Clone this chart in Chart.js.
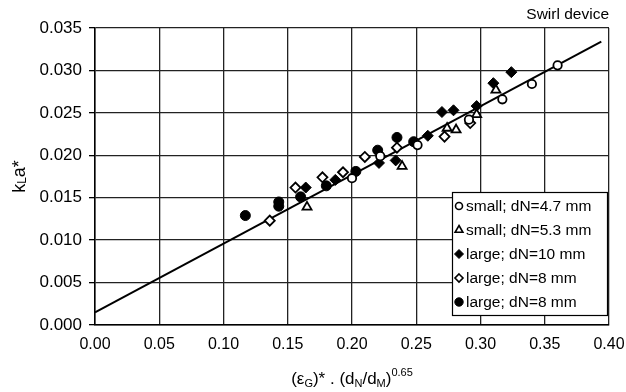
<!DOCTYPE html>
<html><head><meta charset="utf-8">
<script src="https://cdn.jsdelivr.net/npm/chart.js@4.4.0/dist/chart.umd.min.js"></script>
<style>html,body{margin:0;padding:0;background:#fff}#wrap{width:626px;height:392px}</style>
</head><body><div id="wrap"><canvas id="c" width="626" height="392"></canvas></div>
<script>
// ---- data ----
const xTicks = [0.00, 0.05, 0.10, 0.15, 0.20, 0.25, 0.30, 0.35, 0.40];
const yTicks = [0.000, 0.005, 0.010, 0.015, 0.020, 0.025, 0.030, 0.035];
const seriesNames = ["small; dN=4.7 mm", "small; dN=5.3 mm", "large; dN=10 mm", "large; dN=8 mm", "large; dN=8 mm"];

const small47X = [0.200, 0.222, 0.251, 0.291, 0.317, 0.340, 0.360];
const small47Y = [0.0173, 0.0199, 0.0212, 0.0242, 0.0266, 0.0284, 0.0306];

const small53X = [0.165, 0.239, 0.274, 0.281, 0.297, 0.312];
const small53Y = [0.0139, 0.0187, 0.0232, 0.0230, 0.0248, 0.0277];

const large10X = [0.164, 0.187, 0.221, 0.234, 0.259, 0.270, 0.279, 0.297, 0.310, 0.324];
const large10Y = [0.0162, 0.0171, 0.0191, 0.0194, 0.0223, 0.0251, 0.0253, 0.0258, 0.0285, 0.0298];

const large8oX = [0.136, 0.156, 0.177, 0.193, 0.210, 0.235, 0.272, 0.292];
const large8oY = [0.0123, 0.0162, 0.0174, 0.0180, 0.0198, 0.0209, 0.0222, 0.0238];

const large8fX = [0.117, 0.143, 0.143, 0.160, 0.180, 0.203, 0.220, 0.235, 0.248];
const large8fY = [0.0129, 0.0145, 0.0140, 0.0151, 0.0164, 0.0181, 0.0206, 0.0221, 0.0216];

const fitX = [0.000, 0.394];
const fitY = [0.0015, 0.0334];

const cornerNote = "Swirl device";

// ---- build ----
const pts = (xs, ys) => xs.map((x, i) => ({x: x, y: ys[i]}));
const FONT = '"Liberation Sans", Arial, Helvetica, sans-serif';

const styles = [
  {pointStyle: 'circle',   radius: 4.2, bg: '#fff', border: '#000', bw: 1.8},
  {pointStyle: 'triangle', radius: 5.2, bg: '#fff', border: '#000', bw: 1.8},
  {pointStyle: 'rectRot',  radius: 5.5, bg: '#000', border: '#000', bw: 1},
  {pointStyle: 'rectRot',  radius: 5,   bg: '#fff', border: '#000', bw: 1.8},
  {pointStyle: 'circle',   radius: 5,   bg: '#000', border: '#000', bw: 1}
];
const seriesData = [pts(small47X, small47Y), pts(small53X, small53Y), pts(large10X, large10Y), pts(large8oX, large8oY), pts(large8fX, large8fY)];

const datasets = seriesData.map((d, i) => ({
  type: 'scatter', label: seriesNames[i], data: d, order: i + 1,
  pointStyle: styles[i].pointStyle, pointRadius: styles[i].radius,
  pointBackgroundColor: styles[i].bg, pointBorderColor: styles[i].border,
  pointBorderWidth: styles[i].bw, showLine: false
}));
datasets.push({
  type: 'line', label: 'fit', data: pts(fitX, fitY), order: 20,
  borderColor: '#000', borderWidth: 2, pointRadius: 0, fill: false, tension: 0
});

function drawMarker(ctx, st, x, y, r) {
  ctx.save();
  ctx.fillStyle = st.bg; ctx.strokeStyle = st.border; ctx.lineWidth = st.bw;
  ctx.beginPath();
  if (st.pointStyle === 'circle') {
    ctx.arc(x, y, r, 0, Math.PI * 2);
  } else if (st.pointStyle === 'triangle') {
    const w = r * Math.sqrt(3);
    ctx.moveTo(x, y - r);
    ctx.lineTo(x + w / 2, y + r / 2);
    ctx.lineTo(x - w / 2, y + r / 2);
    ctx.closePath();
  } else {
    ctx.moveTo(x, y - r); ctx.lineTo(x + r, y); ctx.lineTo(x, y + r); ctx.lineTo(x - r, y); ctx.closePath();
  }
  ctx.fill(); ctx.stroke();
  ctx.restore();
}

function drawRich(ctx, parts, cx, baseY, align) {
  let total = 0;
  parts.forEach(p => { ctx.font = p.size + 'px ' + FONT; p.w = ctx.measureText(p.t).width; total += p.w; });
  let x = align === 'center' ? cx - total / 2 : cx;
  parts.forEach(p => {
    ctx.font = p.size + 'px ' + FONT;
    ctx.textAlign = 'left'; ctx.textBaseline = 'alphabetic';
    ctx.fillText(p.t, x, baseY + (p.dy || 0));
    x += p.w;
  });
}

const extras = {
  id: 'extras',
  afterDraw(chart) {
    const ctx = chart.ctx;
    const area = chart.chartArea;
    ctx.save();
    ctx.fillStyle = '#000';
    // corner note
    ctx.font = '15.5px ' + FONT; ctx.textAlign = 'right'; ctx.textBaseline = 'alphabetic';
    ctx.fillText(cornerNote, area.right, 19);
    // x title: (εG)* . (dN/dM)^0.65
    drawRich(ctx, [
      {t: '(ε', size: 17}, {t: 'G', size: 11, dy: 3}, {t: ')* . (d', size: 17},
      {t: 'N', size: 11, dy: 3}, {t: '/d', size: 17}, {t: 'M', size: 11, dy: 3},
      {t: ')', size: 17}, {t: '0.65', size: 11, dy: -8}
    ], (area.left + area.right) / 2, 384, 'center');
    // y title: kLa*
    ctx.save();
    ctx.translate(25, (area.top + area.bottom) / 2);
    ctx.rotate(-Math.PI / 2);
    drawRich(ctx, [{t: 'k', size: 18}, {t: 'L', size: 12, dy: 1}, {t: 'a*', size: 18}], 0, 0, 'center');
    ctx.restore();
    // legend
    const lx = 452, ly = 192, lw = 155, lh = 123;
    ctx.fillStyle = '#fff'; ctx.fillRect(lx, ly, lw, lh);
    ctx.strokeStyle = '#000'; ctx.lineWidth = 1.2; ctx.strokeRect(lx + 0.5, ly + 0.5, lw, lh);
    const rowY = [206, 230, 254, 278, 302];
    const legR = [3.5, 4.5, 4.5, 4, 4.2];
    seriesNames.forEach((name, i) => {
      drawMarker(ctx, Object.assign({}, styles[i], {bw: Math.min(styles[i].bw, 1.6)}), 459, rowY[i], legR[i]);
      ctx.fillStyle = '#000'; ctx.font = '15.5px ' + FONT; ctx.textAlign = 'left'; ctx.textBaseline = 'middle';
      ctx.fillText(name, 466, rowY[i] + 1);
    });
    ctx.restore();
  }
};

new Chart(document.getElementById('c'), {
  type: 'scatter',
  data: {datasets: datasets},
  options: {
    responsive: false, animation: false,
    layout: {padding: {left: 0, top: 28, right: 0, bottom: 0}},
    plugins: {legend: {display: false}, tooltip: {enabled: false}, title: {display: false}},
    scales: {
      x: {
        type: 'linear', min: 0, max: 0.40,
        afterBuildTicks: s => { s.ticks = xTicks.map(v => ({value: v})); },
        afterFit: s => { s.height = 67; s.paddingRight = 17; },
        ticks: {color: '#000', font: {size: 16, family: FONT}, padding: 10, maxRotation: 0,
                callback: v => Number(v).toFixed(2)},
        grid: {color: '#222', lineWidth: 1.3, drawTicks: false},
        border: {color: '#000', width: 1.5}
      },
      y: {
        type: 'linear', min: 0, max: 0.035,
        afterBuildTicks: s => { s.ticks = yTicks.map(v => ({value: v})); },
        afterFit: s => { s.width = 95; },
        ticks: {color: '#000', font: {size: 17, family: FONT}, padding: 7,
                callback: v => Number(v).toFixed(3)},
        grid: {color: '#222', lineWidth: 1.3, tickLength: 6, tickColor: '#000'},
        border: {color: '#000', width: 1.5}
      }
    }
  },
  plugins: [extras]
});
</script>
</body></html>
